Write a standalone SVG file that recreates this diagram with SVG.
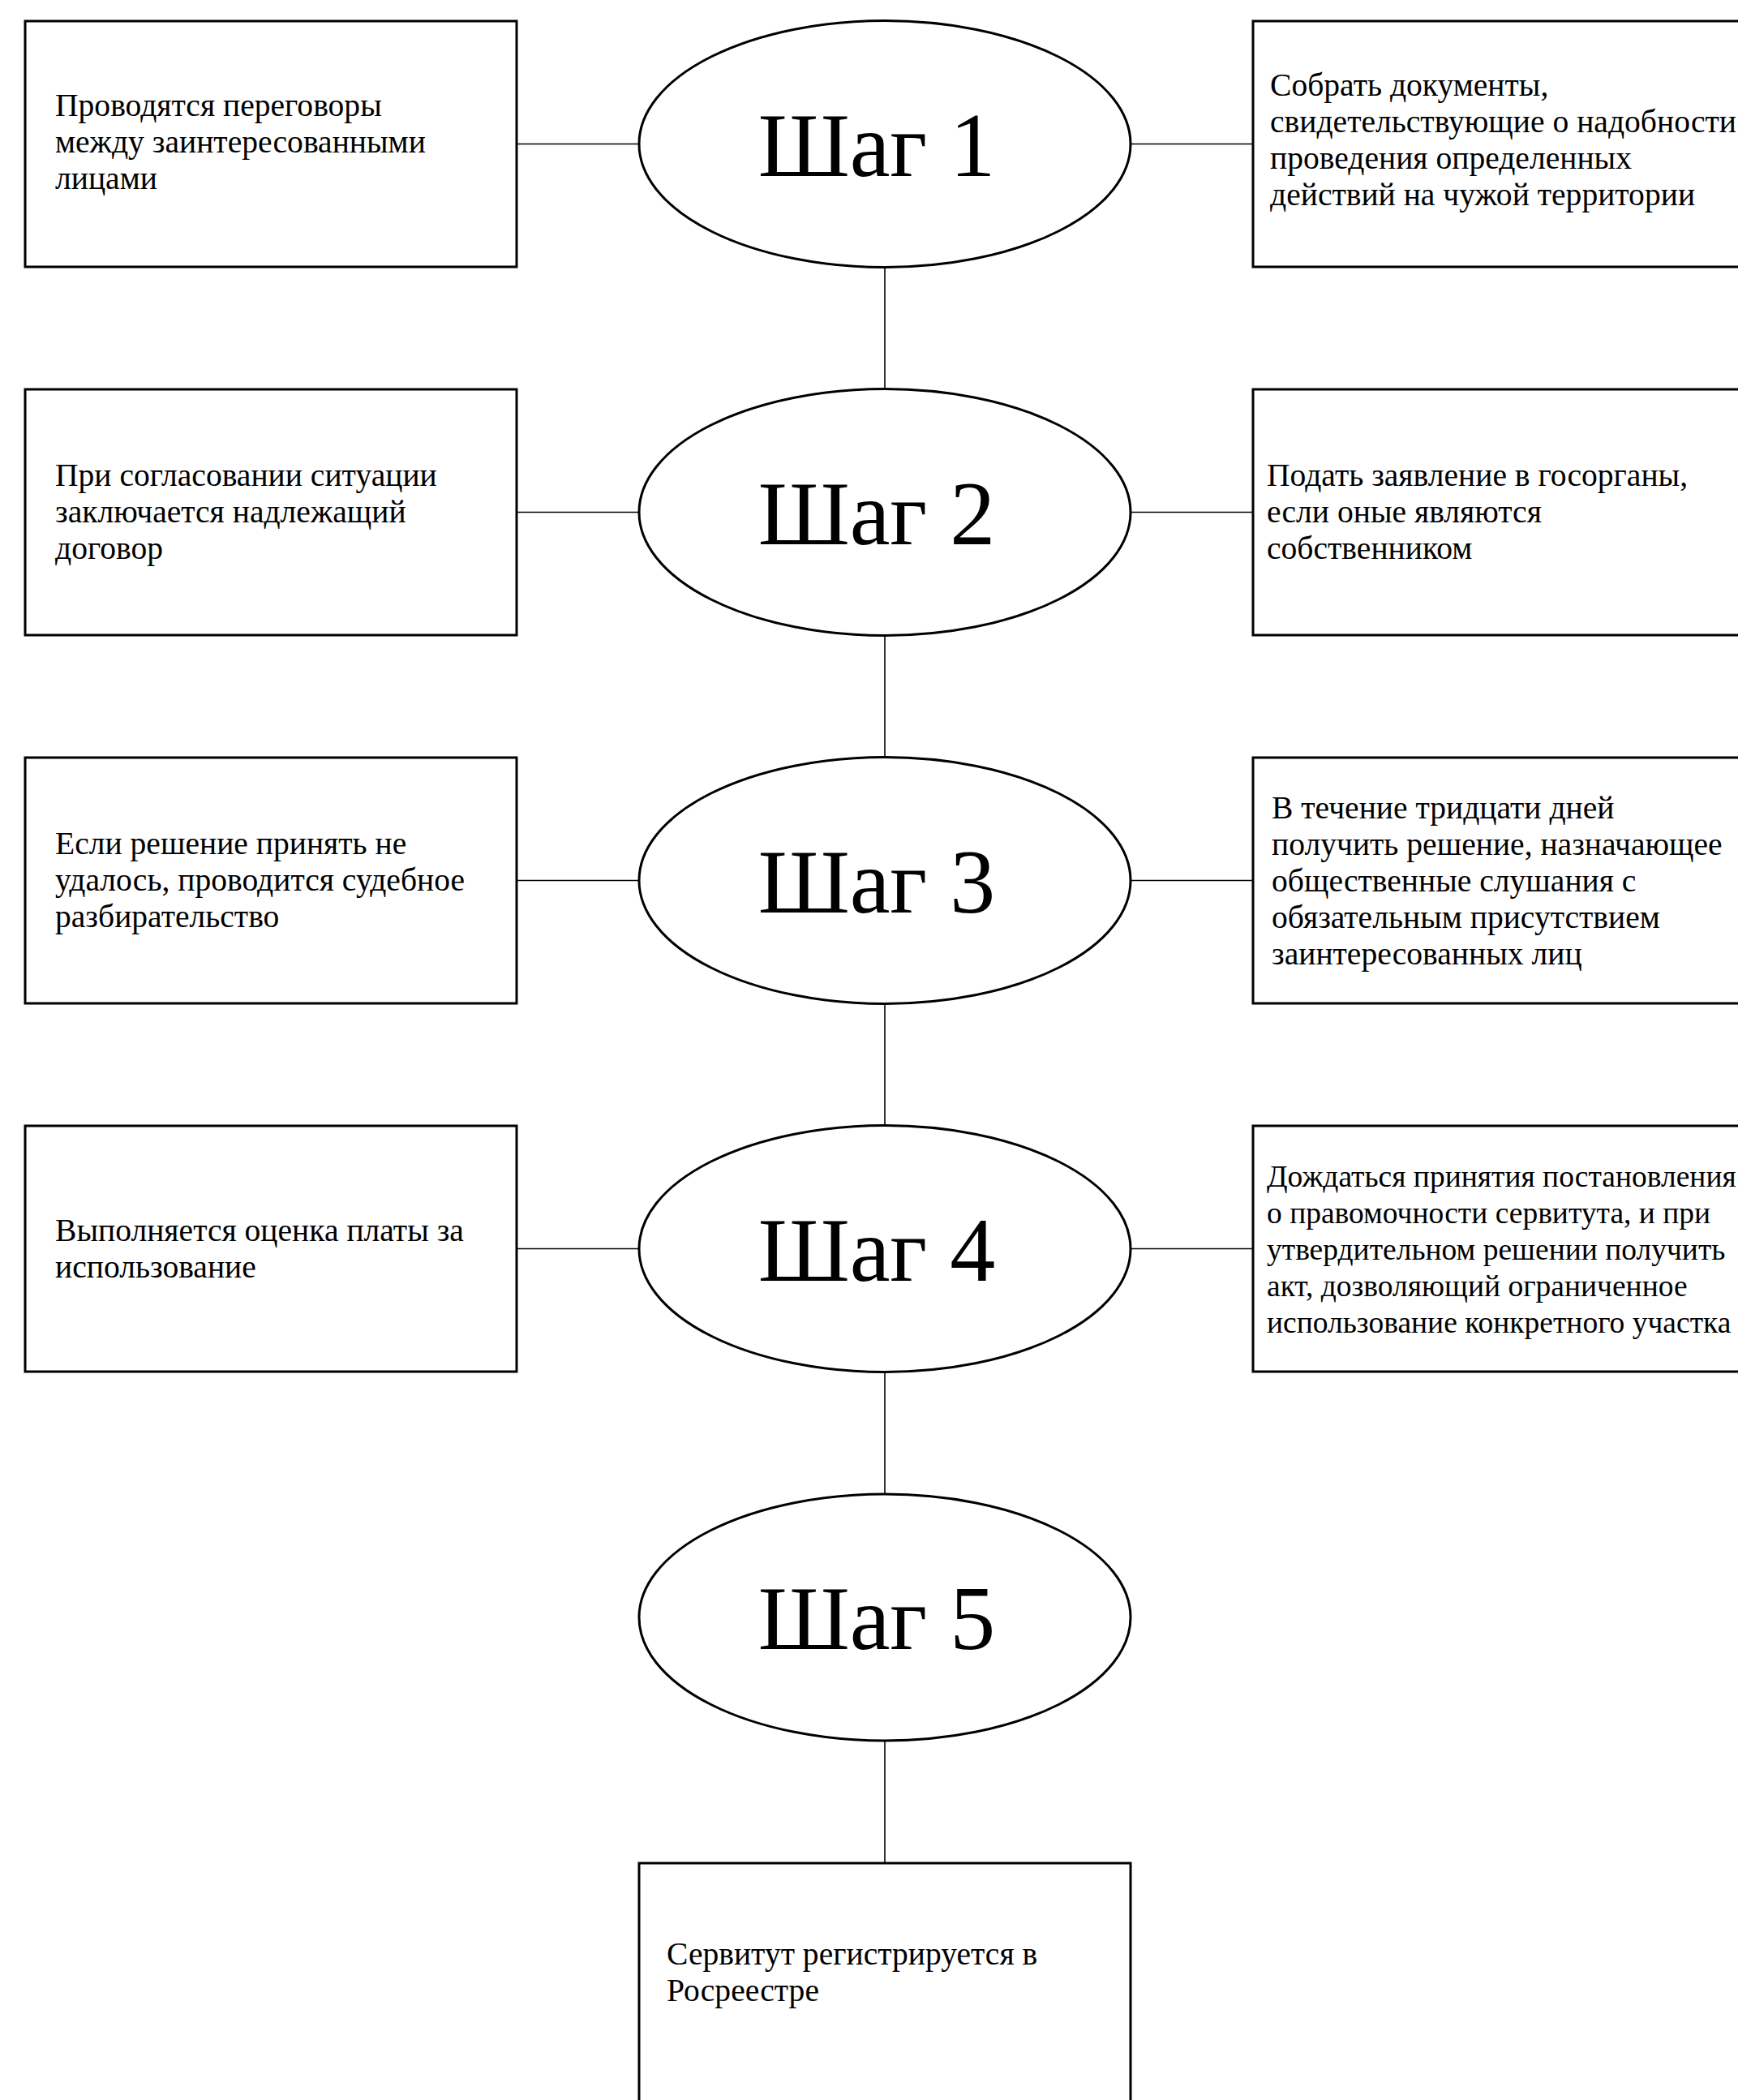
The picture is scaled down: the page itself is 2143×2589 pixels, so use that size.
<svg xmlns="http://www.w3.org/2000/svg" width="2143" height="2589" viewBox="0 0 2143 2589">
<style>
.box{fill:#fff;stroke:#000;stroke-width:3}
.ell{fill:#fff;stroke:#000;stroke-width:3}
.con{stroke:#000;stroke-width:1.6;fill:none}
.t{font-family:"Liberation Serif","Times New Roman",serif;font-size:39.6px;fill:#000}
.s{font-size:37.5px}
.big{font-family:"Liberation Serif","Times New Roman",serif;font-size:112px;fill:#000;text-anchor:middle}
</style>
<rect width="2143" height="2589" fill="#fff"/>
<g id="connectors">
<line class="con" x1="637" y1="177.5" x2="788" y2="177.5"/>
<line class="con" x1="1394" y1="177.5" x2="1545" y2="177.5"/>
<line class="con" x1="637" y1="631.5" x2="788" y2="631.5"/>
<line class="con" x1="1394" y1="631.5" x2="1545" y2="631.5"/>
<line class="con" x1="637" y1="1085.5" x2="788" y2="1085.5"/>
<line class="con" x1="1394" y1="1085.5" x2="1545" y2="1085.5"/>
<line class="con" x1="637" y1="1539.5" x2="788" y2="1539.5"/>
<line class="con" x1="1394" y1="1539.5" x2="1545" y2="1539.5"/>
<line class="con" x1="1091" y1="329.5" x2="1091" y2="479.5"/>
<line class="con" x1="1091" y1="783.5" x2="1091" y2="933.5"/>
<line class="con" x1="1091" y1="1237.5" x2="1091" y2="1387.5"/>
<line class="con" x1="1091" y1="1691.5" x2="1091" y2="1842"/>
<line class="con" x1="1091" y1="2146" x2="1091" y2="2297"/>
</g>
<g id="step1">
<ellipse class="ell" cx="1091" cy="177.5" rx="303" ry="152"/>
<text class="big" x="1081" y="217">Шаг 1</text>
</g>
<g id="step2">
<ellipse class="ell" cx="1091" cy="631.5" rx="303" ry="152"/>
<text class="big" x="1081" y="671">Шаг 2</text>
</g>
<g id="step3">
<ellipse class="ell" cx="1091" cy="1085.5" rx="303" ry="152"/>
<text class="big" x="1081" y="1125">Шаг 3</text>
</g>
<g id="step4">
<ellipse class="ell" cx="1091" cy="1539.5" rx="303" ry="152"/>
<text class="big" x="1081" y="1579">Шаг 4</text>
</g>
<g id="step5">
<ellipse class="ell" cx="1091" cy="1994" rx="303" ry="152"/>
<text class="big" x="1081" y="2033">Шаг 5</text>
</g>
<g id="left1">
<rect class="box" x="31" y="26" width="606" height="303"/>
<text class="t" x="68" y="143">Проводятся переговоры</text>
<text class="t" x="68" y="188">между заинтересованными</text>
<text class="t" x="68" y="233">лицами</text>
</g>
<g id="right1">
<rect class="box" x="1545" y="26" width="606" height="303"/>
<text class="t" x="1566" y="118">Собрать документы,</text>
<text class="t" x="1566" y="163">свидетельствующие о надобности</text>
<text class="t" x="1566" y="208">проведения определенных</text>
<text class="t" x="1566" y="253">действий на чужой территории</text>
</g>
<g id="left2">
<rect class="box" x="31" y="480" width="606" height="303"/>
<text class="t" x="68" y="599">При согласовании ситуации</text>
<text class="t" x="68" y="644">заключается надлежащий</text>
<text class="t" x="68" y="689">договор</text>
</g>
<g id="right2">
<rect class="box" x="1545" y="480" width="606" height="303"/>
<text class="t" x="1562" y="599">Подать заявление в госорганы,</text>
<text class="t" x="1562" y="644">если оные являются</text>
<text class="t" x="1562" y="689">собственником</text>
</g>
<g id="left3">
<rect class="box" x="31" y="934" width="606" height="303"/>
<text class="t" x="68" y="1053">Если решение принять не</text>
<text class="t" x="68" y="1098">удалось, проводится судебное</text>
<text class="t" x="68" y="1143">разбирательство</text>
</g>
<g id="right3">
<rect class="box" x="1545" y="934" width="606" height="303"/>
<text class="t" x="1568" y="1009">В течение тридцати дней</text>
<text class="t" x="1568" y="1054">получить решение, назначающее</text>
<text class="t" x="1568" y="1099">общественные слушания с</text>
<text class="t" x="1568" y="1144">обязательным присутствием</text>
<text class="t" x="1568" y="1189">заинтересованных лиц</text>
</g>
<g id="left4">
<rect class="box" x="31" y="1388" width="606" height="303"/>
<text class="t" x="68" y="1530">Выполняется оценка платы за</text>
<text class="t" x="68" y="1575">использование</text>
</g>
<g id="right4">
<rect class="box" x="1545" y="1388" width="606" height="303"/>
<text class="t s" x="1562" y="1463">Дождаться принятия постановления</text>
<text class="t s" x="1562" y="1508">о правомочности сервитута, и при</text>
<text class="t s" x="1562" y="1553">утвердительном решении получить</text>
<text class="t s" x="1562" y="1598">акт, дозволяющий ограниченное</text>
<text class="t s" x="1562" y="1643">использование конкретного участка</text>
</g>
<g id="final">
<rect class="box" x="788" y="2297" width="606" height="303"/>
<text class="t" x="822" y="2422">Сервитут регистрируется в</text>
<text class="t" x="822" y="2467">Росреестре</text>
</g>
</svg>
